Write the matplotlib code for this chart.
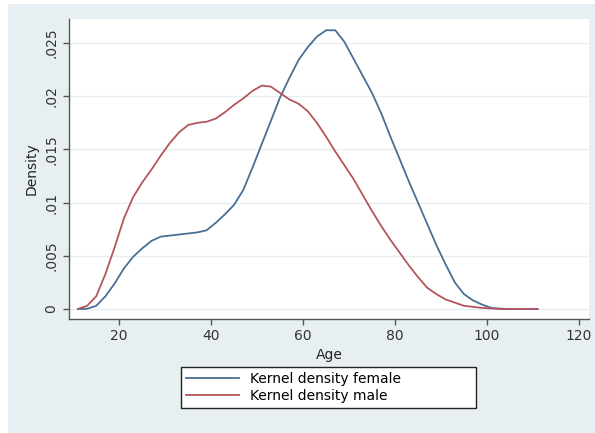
import matplotlib
matplotlib.use("Agg")
from matplotlib import pyplot as plt
from matplotlib.patches import Rectangle

# dados (densidade por idade)
idades = [11, 13, 15, 17, 19, 21, 23, 25, 27, 29, 31, 33, 35, 37, 39, 41, 43, 45, 47, 49,
          51, 53, 55, 57, 59, 61, 63, 65, 67, 69, 71, 73, 75, 77, 79, 81, 83, 85, 87, 89,
          91, 93, 95, 97, 99, 101, 103, 105, 107, 109, 111]
dens_fem = [0, 0.00002, 0.0003, 0.0012, 0.0024, 0.0038, 0.0049, 0.0057, 0.0064, 0.0068,
            0.0069, 0.0070, 0.0071, 0.0072, 0.0074, 0.0081, 0.0089, 0.0098, 0.0112, 0.0133,
            0.0155, 0.0177, 0.0199, 0.0217, 0.0234, 0.0246, 0.0256, 0.0262, 0.0262, 0.0251,
            0.0235, 0.0219, 0.0203, 0.0184, 0.0162, 0.0141, 0.0120, 0.0100, 0.0080, 0.0060,
            0.0042, 0.0025, 0.0014, 0.0008, 0.0004, 0.0001, 0.00003, 0, 0, 0, 0]
dens_masc = [0, 0.0003, 0.0012, 0.0033, 0.0058, 0.0085, 0.0105, 0.0119, 0.0131, 0.0144,
             0.0156, 0.0166, 0.0173, 0.0175, 0.0176, 0.0179, 0.0185, 0.0192, 0.0198, 0.0205,
             0.0210, 0.0209, 0.0203, 0.0197, 0.0193, 0.0186, 0.0175, 0.0162, 0.0148, 0.0135,
             0.0122, 0.0107, 0.0092, 0.0078, 0.0065, 0.0053, 0.0041, 0.0030, 0.0020, 0.0014,
             0.0009, 0.0006, 0.0003, 0.0002, 0.0001, 0.00005, 0, 0, 0, 0, 0]

xticks = [20, 40, 60, 80, 100, 120]
yticks = [0, 0.005, 0.01, 0.015, 0.02, 0.025]
ytick_labels = ['0', '.005', '.01', '.015', '.02', '.025']

fundo = '#e8eff2'
azul = '#4a6f95'
vermelho = '#b3565c'

fig = plt.figure(figsize=(5.95, 4.33), dpi=100, facecolor='white')
# painel de fundo (estilo Stata)
fig.patches.append(Rectangle((8 / 595, 0), 1, 1 - 4 / 433, transform=fig.transFigure,
                             facecolor=fundo, edgecolor='none', zorder=-1))

ax = fig.add_axes([69 / 595, 1 - 319 / 433, 520 / 595, 300 / 433])
ax.set_facecolor('white')
ax.plot(idades, dens_fem, color=azul, lw=1.3, label='Kernel density female')
ax.plot(idades, dens_masc, color=vermelho, lw=1.3, label='Kernel density male')

ax.set_xlim(9.07, 122.2)
ax.set_ylim(-0.00094, 0.02726)
ax.set_xticks(xticks)
ax.set_yticks(yticks)
ax.set_yticklabels(ytick_labels, rotation=90, va='center')
ax.tick_params(colors='#555555', labelcolor='#333333', labelsize=10, length=4, width=1)
ax.grid(axis='y', color='#e6eef0', lw=1)
ax.set_axisbelow(True)
for s in ['top', 'right']:
    ax.spines[s].set_visible(False)
for s in ['left', 'bottom']:
    ax.spines[s].set_color('#555555')
    ax.spines[s].set_linewidth(1)

ax.set_xlabel('Age', fontsize=10, color='#222222', labelpad=3)
ax.set_ylabel('Density', fontsize=10, color='#222222', labelpad=4)

leg = fig.legend(loc='upper left', bbox_to_anchor=(181 / 595, 1 - 416 / 433, 295 / 595, 49 / 433),
                 mode='expand', borderaxespad=0, fancybox=False, fontsize=10,
                 handlelength=3.8, handletextpad=0.8, labelspacing=0.25, borderpad=0.35)
leg.get_frame().set_edgecolor('#222222')
leg.get_frame().set_linewidth(1)
leg.get_frame().set_alpha(1)

plt.savefig('out.png', dpi=100, facecolor=fig.get_facecolor())
